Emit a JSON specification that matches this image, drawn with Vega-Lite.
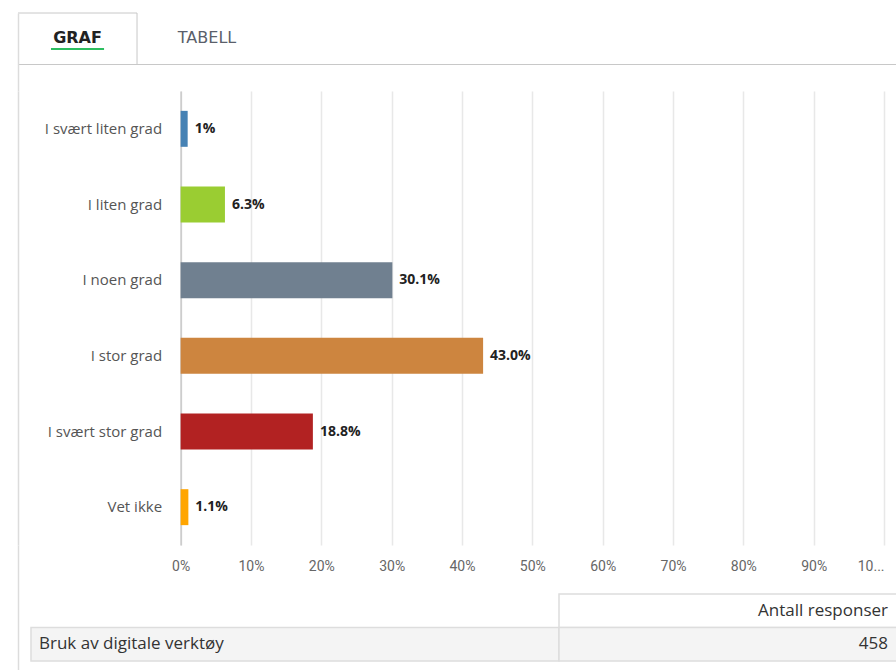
{
  "$schema": "https://vega.github.io/schema/vega-lite/v6.json",
  "background": "white",
  "padding": {"left": 17, "top": 12, "right": 0, "bottom": 0},
  "config": {"view": {"stroke": null}, "font": "Open Sans"},
  "bounds": "flush",
  "spacing": 0,
  "datasets": {
    "tabs": [
      {"tab": "GRAF", "row": "tab", "active": true},
      {"tab": "TABELL", "row": "tab", "active": false}
    ],
    "bars": [
      {"cat": "I svært liten grad", "pct": 1.0, "label": "1%"},
      {"cat": "I liten grad", "pct": 6.3, "label": "6.3%"},
      {"cat": "I noen grad", "pct": 30.1, "label": "30.1%"},
      {"cat": "I stor grad", "pct": 43.0, "label": "43.0%"},
      {"cat": "I svært stor grad", "pct": 18.8, "label": "18.8%"},
      {"cat": "Vet ikke", "pct": 1.1, "label": "1.1%"}
    ],
    "table": [
      {"row": "header", "col": "label", "text": ""},
      {"row": "header", "col": "value", "text": "Antall responser"},
      {"row": "data", "col": "label", "text": "Bruk av digitale verktøy"},
      {"row": "data", "col": "value", "text": "458"}
    ]
  },
  "vconcat": [
    {
      "width": 879,
      "height": 78,
      "data": {"name": "tabs"},
      "encoding": {
        "x": {
          "field": "tab", "type": "nominal", "sort": null,
          "scale": {"domain": ["GRAF", "TABELL", "p1", "p2", "p3", "p4"], "paddingInner": 0.081, "paddingOuter": 0.434, "align": 0},
          "axis": {"orient": "bottom", "offset": -27, "domain": true, "domainColor": "#c8c8c8", "domainWidth": 1, "labels": false, "ticks": false, "grid": false, "title": null, "minExtent": 0, "maxExtent": 0}
        },
        "y": {
          "field": "row", "type": "nominal",
          "scale": {"paddingInner": 0, "paddingOuter": 0.25, "align": 0},
          "axis": {"domain": true, "domainColor": "#dcdcdc", "domainWidth": 1.5, "labels": false, "ticks": false, "grid": false, "title": null, "minExtent": 0, "maxExtent": 0}
        }
      },
      "layer": [
        {
          "transform": [{"filter": "datum.active"}],
          "mark": {"type": "rect", "fill": "white", "stroke": "#c8c8c8", "strokeWidth": 1, "strokeDash": [171, 500]}
        },
        {
          "transform": [{"filter": "datum.active"}],
          "mark": {"type": "rule", "color": "#2dbe60", "strokeWidth": 2},
          "encoding": {
            "x": {"field": "tab", "type": "nominal", "bandPosition": 0.277},
            "x2": {"field": "tab", "bandPosition": 0.723},
            "y": {"field": "row", "type": "nominal", "bandPosition": 0.69}
          }
        },
        {
          "transform": [{"filter": "datum.active"}],
          "mark": {"type": "text", "font": "DejaVu Sans", "fontSize": 16, "fontWeight": "bold", "color": "#222222", "dy": -1},
          "encoding": {"text": {"field": "tab"}}
        },
        {
          "transform": [{"filter": "!datum.active"}],
          "mark": {"type": "text", "font": "DejaVu Sans", "fontSize": 16, "fontWeight": "normal", "color": "#5a5f6b", "dy": -1},
          "encoding": {"text": {"field": "tab"}}
        }
      ]
    },
    {
      "width": 879,
      "height": 454,
      "data": {"name": "bars"},
      "encoding": {
        "y": {
          "field": "cat", "type": "nominal", "sort": null,
          "scale": {"paddingInner": 0.525, "paddingOuter": 0.2625},
          "axis": {"title": null, "offset": -162.6, "minExtent": 0, "maxExtent": 0, "ticks": false, "tickSize": 0, "labelPadding": 19, "labelFontSize": 15, "labelColor": "#555555", "labelFont": "Open Sans", "labelLimit": 300, "domainColor": "#c8c8c8", "domainWidth": 1.5, "grid": false}
        },
        "x": {
          "field": "pct", "type": "quantitative",
          "scale": {"domain": [-23.12, 101.84], "nice": false, "zero": false},
          "axis": {
            "title": null,
            "values": [-23.12, 0, 10, 20, 30, 40, 50, 60, 70, 80, 90, 100],
            "grid": true,
            "gridColor": {"condition": {"test": "datum.value < 0", "value": "#dcdcdc"}, "value": "#e8e8e8"},
            "gridWidth": 1.5,
            "domain": false,
            "ticks": false,
            "tickSize": 0,
            "labelPadding": 14,
            "labelFontSize": 14,
            "labelFont": "Roboto",
            "labelColor": "#666666",
            "labelFlush": false,
            "labelOverlap": false,
            "labelExpr": "datum.value < 0 ? '' : (datum.value == 100 ? '10...' : datum.value + '%')",
            "labelAlign": {"condition": {"test": "datum.value == 100", "value": "right"}, "value": "center"}
          }
        }
      },
      "layer": [
        {
          "mark": {"type": "bar"},
          "encoding": {
            "x2": {"datum": 0},
            "color": {
              "field": "cat", "type": "nominal",
              "scale": {
                "domain": ["I svært liten grad", "I liten grad", "I noen grad", "I stor grad", "I svært stor grad", "Vet ikke"],
                "range": ["steelblue", "yellowgreen", "slategray", "peru", "firebrick", "orange"]
              },
              "legend": null
            }
          }
        },
        {
          "mark": {"type": "text", "align": "left", "dx": 7, "fontSize": 14, "fontWeight": "bold", "color": "#222222", "font": "Open Sans"},
          "encoding": {"text": {"field": "label"}}
        }
      ]
    },
    {
      "spacing": 0,
      "bounds": "flush",
      "hconcat": [
        {
          "width": 541,
          "height": 126,
          "data": {"name": "table"},
          "transform": [{"filter": "datum.col == 'label' && datum.row == 'data'"}],
          "encoding": {
            "x": {"field": "col", "type": "nominal", "scale": {"domain": ["label"], "paddingInner": 0, "paddingOuter": 0.0123, "align": 1}, "axis": null},
            "y": {
              "field": "row", "type": "nominal",
              "scale": {"domain": ["header", "data"], "paddingInner": 0, "paddingOuter": 0.8806, "align": 0.8305},
              "axis": {"domain": true, "domainColor": "#dcdcdc", "domainWidth": 1.5, "labels": false, "ticks": false, "grid": false, "title": null, "minExtent": 0, "maxExtent": 0}
            }
          },
          "layer": [
            {"mark": {"type": "rect", "fill": "#f4f4f4", "stroke": "#dddddd", "strokeWidth": 1.5}},
            {
              "mark": {"type": "text", "align": "left", "dx": 8, "fontSize": 17, "color": "#333333", "font": "Open Sans"},
              "encoding": {
                "x": {"field": "col", "type": "nominal", "bandPosition": 0},
                "text": {"field": "text"}
              }
            }
          ]
        },
        {
          "width": 338,
          "height": 126,
          "data": {"name": "table"},
          "transform": [{"filter": "datum.col == 'value'"}],
          "encoding": {
            "x": {"field": "col", "type": "nominal", "scale": {"domain": ["value"], "paddingInner": 0, "paddingOuter": 0}, "axis": null},
            "y": {
              "field": "row", "type": "nominal",
              "scale": {"domain": ["header", "data"], "paddingInner": 0, "paddingOuter": 0.8806, "align": 0.8305},
              "axis": null
            }
          },
          "layer": [
            {
              "mark": {"type": "rect", "stroke": "#dddddd", "strokeWidth": 1.5},
              "encoding": {"fill": {"condition": {"test": "datum.row == 'data'", "value": "#f4f4f4"}, "value": "white"}}
            },
            {
              "mark": {"type": "text", "align": "right", "dx": -9, "fontSize": 17, "color": "#333333", "font": "Open Sans"},
              "encoding": {
                "x": {"field": "col", "type": "nominal", "bandPosition": 1},
                "text": {"field": "text"}
              }
            }
          ]
        }
      ]
    }
  ]
}
